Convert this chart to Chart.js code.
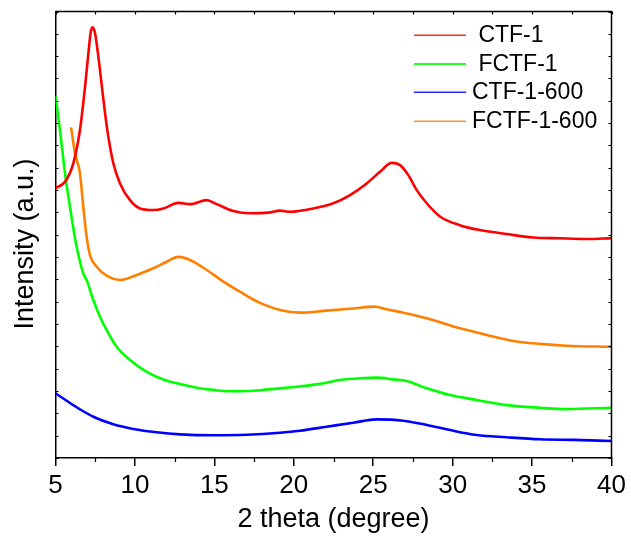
<!DOCTYPE html>
<html>
<head>
<meta charset="utf-8">
<title>XRD patterns</title>
<script src="https://cdn.jsdelivr.net/npm/chart.js@4"></script>
<style>
  html, body { margin: 0; padding: 0; background: #fff; }
  #wrap { width: 631px; height: 539px; position: relative; }
</style>
</head>
<body>
<div id="wrap"><canvas id="xrd"></canvas></div>
<script>
// Axis setup
const xTicks = [5, 10, 15, 20, 25, 30, 35, 40];
const xMinorStep = 2.5;
const yMin = 0, yMax = 20, yStep = 1;
const xTitle = '2 theta (degree)';
const yTitle = 'Intensity (a.u.)';

// Series names (as shown in the legend) and colours
const seriesNames = [' CTF-1', ' FCTF-1', 'CTF-1-600', 'FCTF-1-600'];
const seriesColors = ['#ff0000', '#00ff00', '#0000ff', '#ff8000'];

// CTF-1
const ctf1Theta = [5.0, 5.6, 6.12, 6.54, 6.86, 7.07, 7.22, 7.34, 7.49, 7.7, 7.97, 8.26, 8.64, 9.06, 9.69, 10.32, 11.16, 11.79, 12.73, 13.47, 14.52, 15.15, 16.19, 17.24, 18.4, 19.13, 19.76, 21.23, 22.49, 23.54, 24.59, 25.43, 26.16, 26.69, 27.21, 27.74, 28.37, 29.2, 30.46, 31.72, 33.4, 35.08, 36.76, 38.44, 40.0];
const ctf1Int   = [12.09, 12.37, 13.2, 14.69, 16.63, 18.12, 19.09, 19.29, 19.02, 17.97, 16.33, 14.69, 13.2, 12.3, 11.55, 11.18, 11.11, 11.18, 11.43, 11.37, 11.55, 11.37, 11.06, 10.96, 10.99, 11.08, 11.03, 11.18, 11.41, 11.78, 12.3, 12.82, 13.22, 13.12, 12.67, 12.0, 11.41, 10.82, 10.43, 10.21, 10.03, 9.88, 9.84, 9.81, 9.85];

// FCTF-1
const fctf1Theta = [5.0, 5.28, 5.6, 5.91, 6.33, 6.75, 6.96, 7.38, 7.8, 8.22, 8.85, 9.69, 10.74, 11.79, 12.84, 13.89, 14.93, 15.98, 17.04, 18.08, 19.13, 20.18, 21.54, 22.91, 24.17, 25.22, 26.27, 27.11, 28.37, 29.83, 31.51, 33.4, 35.5, 37.18, 40.0];
const fctf1Int   = [16.21, 14.69, 12.75, 11.25, 9.46, 8.27, 7.97, 7.08, 6.33, 5.73, 4.98, 4.39, 3.86, 3.52, 3.31, 3.15, 3.05, 2.99, 3.0, 3.05, 3.12, 3.19, 3.31, 3.49, 3.57, 3.6, 3.52, 3.45, 3.12, 2.82, 2.6, 2.37, 2.25, 2.19, 2.25];

// CTF-1-600
const ctf1600Theta = [5.0, 6.12, 6.54, 7.38, 8.64, 9.9, 11.37, 12.84, 14.93, 17.04, 19.13, 20.39, 22.07, 23.75, 25.22, 26.89, 28.37, 29.83, 31.51, 33.4, 35.5, 37.6, 40.0];
const ctf1600Int   = [2.9, 2.37, 2.18, 1.85, 1.51, 1.3, 1.15, 1.06, 1.02, 1.04, 1.13, 1.22, 1.4, 1.58, 1.73, 1.67, 1.48, 1.25, 1.03, 0.93, 0.84, 0.81, 0.76];

// FCTF-1-600
const fctf1600Theta = [5.98, 6.23, 6.54, 6.75, 6.96, 7.17, 7.59, 8.32, 9.06, 10.11, 11.16, 12.0, 12.73, 13.47, 14.52, 15.57, 16.61, 17.45, 17.87, 19.13, 20.39, 22.07, 23.75, 25.11, 25.85, 26.89, 28.37, 30.46, 32.14, 33.82, 35.5, 37.18, 40.0];
const fctf1600Int   = [14.81, 13.65, 12.75, 11.25, 9.91, 9.09, 8.57, 8.12, 7.97, 8.2, 8.5, 8.79, 9.01, 8.87, 8.42, 7.9, 7.45, 7.1, 6.95, 6.63, 6.51, 6.6, 6.7, 6.78, 6.66, 6.51, 6.26, 5.81, 5.51, 5.24, 5.11, 5.03, 4.98];

const seriesTheta = [ctf1Theta, fctf1Theta, ctf1600Theta, fctf1600Theta];
const seriesInt = [ctf1Int, fctf1Int, ctf1600Int, fctf1600Int];

const FONT = "'Liberation Sans', Arial, sans-serif";

const datasets = seriesNames.map((name, i) => ({
  label: name.trim(),
  data: seriesTheta[i].map((t, k) => ({ x: t, y: seriesInt[i][k] })),
  borderColor: seriesColors[i],
  backgroundColor: seriesColors[i],
  borderWidth: 2.6,
  pointRadius: 0,
  cubicInterpolationMode: 'monotone',
  fill: false
}));

// Frame: top/right borders, minor and inward ticks, y title, legend box
const framePlugin = {
  id: 'framePlugin',
  afterDraw(chart) {
    const { ctx, chartArea: a, scales } = chart;
    const x = scales.x, y = scales.y;
    ctx.save();
    ctx.strokeStyle = '#000';
    ctx.lineWidth = 1.5;
    ctx.beginPath();
    ctx.moveTo(a.left, a.top);
    ctx.lineTo(a.right, a.top);
    ctx.lineTo(a.right, a.bottom);
    ctx.stroke();

    ctx.lineWidth = 1.2;
    ctx.beginPath();
    for (let v = x.min; v <= x.max + 1e-9; v += xMinorStep) {
      const px = Math.round(x.getPixelForValue(v)) + 0.5;
      if (!xTicks.includes(v)) {
        ctx.moveTo(px, a.bottom);
        ctx.lineTo(px, a.bottom + 4);
      }
      ctx.moveTo(px, a.top);
      ctx.lineTo(px, a.top + 3);
    }
    for (let v = yMin; v <= yMax + 1e-9; v += yStep) {
      const py = Math.round(y.getPixelForValue(v)) + 0.5;
      ctx.moveTo(a.left, py);
      ctx.lineTo(a.left + 3, py);
      ctx.moveTo(a.right, py);
      ctx.lineTo(a.right - 3, py);
    }
    ctx.stroke();

    // y-axis title
    ctx.fillStyle = '#000';
    ctx.font = `27px ${FONT}`;
    ctx.textAlign = 'center';
    ctx.textBaseline = 'middle';
    ctx.translate(26, 244);
    ctx.rotate(-Math.PI / 2);
    ctx.fillText(yTitle, 0, 0);
    ctx.restore();

    // legend
    seriesNames.forEach((name, i) => {
      const rowY = Math.round(35 + i * 28.7);
      ctx.save();
      ctx.globalAlpha = 0.85;
      ctx.fillStyle = seriesColors[i];
      ctx.fillRect(414, rowY - (i === 1 ? 1 : 0.5), 52, i === 1 ? 2 : 1.5);
      ctx.restore();
      ctx.save();
      ctx.font = `23px ${FONT}`;
      ctx.textBaseline = 'middle';
      ctx.textAlign = 'left';
      ctx.fillStyle = '#000';
      ctx.fillText(name, 472, rowY + 1);
      ctx.restore();
    });
  }
};

new Chart(document.getElementById('xrd'), {
  type: 'line',
  data: { datasets },
  options: {
    responsive: true,
    maintainAspectRatio: false,
    animation: false,
    layout: { padding: { left: 0, top: 11.5, right: 19.5, bottom: 0 } },
    plugins: { legend: { display: false }, tooltip: { enabled: false } },
    scales: {
      x: {
        type: 'linear',
        min: 5,
        max: 40,
        afterBuildTicks(scale) { scale.ticks = xTicks.map(v => ({ value: v })); },
        afterFit(scale) { scale.height = 81; },
        ticks: {
          color: '#000',
          font: { family: FONT, size: 26 },
          padding: 4,
          maxRotation: 0,
          autoSkip: false,
          callback: v => String(v)
        },
        grid: { drawOnChartArea: false, drawTicks: true, tickLength: 8, color: '#000', lineWidth: 1.5 },
        border: { display: true, color: '#000', width: 1.5 },
        title: {
          display: true,
          text: xTitle,
          color: '#000',
          font: { family: FONT, size: 27 },
          padding: { top: 0, bottom: 3 }
        }
      },
      y: {
        min: yMin,
        max: yMax,
        afterFit(scale) { scale.width = 55.5; },
        ticks: { display: false },
        grid: { drawOnChartArea: false, drawTicks: false },
        border: { display: true, color: '#000', width: 1.5 }
      }
    }
  },
  plugins: [framePlugin]
});
</script>
</body>
</html>
